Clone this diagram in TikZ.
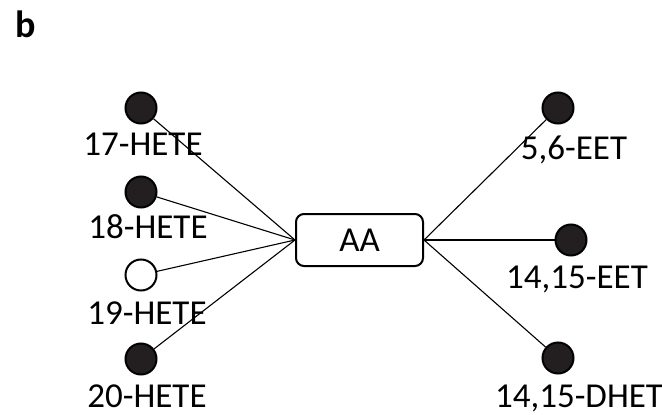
\documentclass[tikz,border=0pt]{standalone}
\usepackage{fontspec}
\setmainfont{Carlito}
\definecolor{dotfill}{HTML}{231F20}
\begin{document}
\begin{tikzpicture}[x=1pt,y=-1pt,
  dot/.style={circle,draw=black,line width=2pt,fill=dotfill,minimum size=31pt,inner sep=0pt},
  opendot/.style={dot,fill=white},
  lbl/.style={anchor=base,inner sep=0pt,font=\fontsize{35}{40}\selectfont},
  hub/.style={draw=black,line width=2pt,rounded corners=8pt,minimum width=127pt,minimum height=52pt,inner sep=0pt,font=\fontsize{35}{40}\selectfont},
  link/.style={line width=1.1pt}]
\useasboundingbox (0,0) rectangle (662,415);

% panel letter
\node[lbl,font=\fontsize{38}{40}\selectfont\bfseries] (panel) at (26,37) {b};

% central node
\node[hub] (aa) at (359.5,240) {\raisebox{-1pt}{AA}};

% HETE metabolites
\node[dot] (h17) at (141,108) {};
\node[dot] (h18) at (141,192) {};
\node[opendot] (h19) at (141,275) {};
\node[dot] (h20) at (141,359) {};

% EET / DHET metabolites
\node[dot] (e56) at (558,108) {};
\node[dot] (e1415) at (571,240) {};
\node[dot] (d1415) at (558,358) {};

% connectors
\foreach \n in {h17,h18,h19,h20} \draw[link] (\n) -- (aa.west);
\foreach \n in {e56,e1415,d1415} \draw[link] (aa.east) -- (\n);

% labels
\node[lbl] (t17) at (143,155) {17-HETE};
\node[lbl] (t18) at (148,238) {18-HETE};
\node[lbl] (t19) at (147,324) {19-HETE};
\node[lbl] (t20) at (147,407) {20-HETE};
\node[lbl] (t56) at (574,159) {5,6-EET};
\node[lbl] (t1415) at (577,288) {14,15-EET};
\node[lbl] (td) at (579,407) {14,15-DHET};
\end{tikzpicture}
\end{document}
